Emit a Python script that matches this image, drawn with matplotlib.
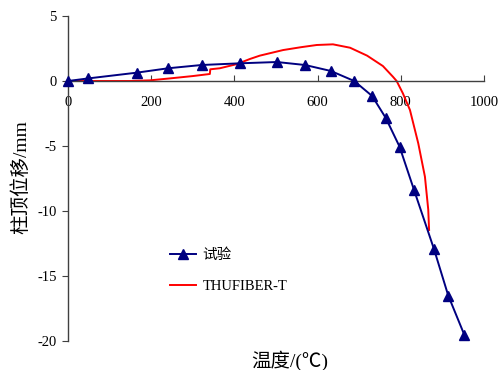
import matplotlib
matplotlib.use("Agg")
from matplotlib import pyplot as plt

plt.rcParams['font.family'] = ['Liberation Serif', 'Noto Sans CJK SC', 'DejaVu Sans']
plt.rcParams['axes.unicode_minus'] = False

# test data (blue, triangles)
test_temp = [0, 49, 165, 241, 321, 413, 502, 570, 632, 688, 731, 764, 797, 832, 880, 914, 953]
test_disp = [0, 0.2, 0.64, 0.98, 1.23, 1.36, 1.46, 1.23, 0.77, 0.0, -1.15, -2.85, -5.05, -8.4, -12.95, -16.5, -19.55]

# THUFIBER-T simulation (red)
sim_temp = [0, 12, 149, 197, 245, 300, 341, 342, 365, 406, 437, 461, 517, 560, 598, 637, 678, 719, 757,
            781, 790, 805, 822, 842, 858, 866, 868]
sim_disp = [0, 0, 0.0, 0.05, 0.2, 0.38, 0.54, 0.9, 0.98, 1.3, 1.69, 1.95, 2.38, 2.6, 2.77, 2.82, 2.56, 1.95, 1.15,
            0.33, 0.0, -0.95, -2.23, -4.8, -7.36, -9.9, -11.46]

x_ticks = [0, 200, 400, 600, 800, 1000]
y_ticks = [-20, -15, -10, -5, 0, 5]

fig = plt.figure(figsize=(5.01, 3.70), dpi=100)
ax = fig.add_axes([68 / 501, 1 - 341 / 370, 416 / 501, 325 / 370])

ax.plot(test_temp, test_disp, color='#000080', lw=1.4, marker='^', markersize=7,
        label='试验', clip_on=False, zorder=3)
ax.plot(sim_temp, sim_disp, color='#FF0000', lw=1.4, label='THUFIBER-T', zorder=2)

ax.set_xlim(0, 1000)
ax.set_ylim(-20, 5)
ax.set_xticks(x_ticks)
ax.set_yticks(y_ticks)

# x axis sits on y = 0
ax.spines['bottom'].set_position(('data', 0))
ax.spines['top'].set_visible(False)
ax.spines['right'].set_visible(False)
for s in ('bottom', 'left'):
    ax.spines[s].set_color('#404040')
    ax.spines[s].set_linewidth(1.0)

ax.tick_params(axis='x', direction='in', length=4, pad=11, labelsize=10.5, color='#404040')
ax.tick_params(axis='y', direction='out', length=4, pad=4, labelsize=10.5, color='#404040')

ax.set_xlabel('温度/(℃)', fontsize=14)
ax.xaxis.set_label_coords(0.534, -0.028)
ax.set_ylabel('柱顶位移/mm', fontsize=14)
ax.yaxis.set_label_coords(-0.091, 0.505)

ax.legend(loc='upper left', bbox_to_anchor=(0.245, 0.285), frameon=False, fontsize=10.5,
          borderpad=0, borderaxespad=0, handlelength=1.8, handletextpad=0.45, labelspacing=1.2)

plt.savefig('out.png', dpi=100)
